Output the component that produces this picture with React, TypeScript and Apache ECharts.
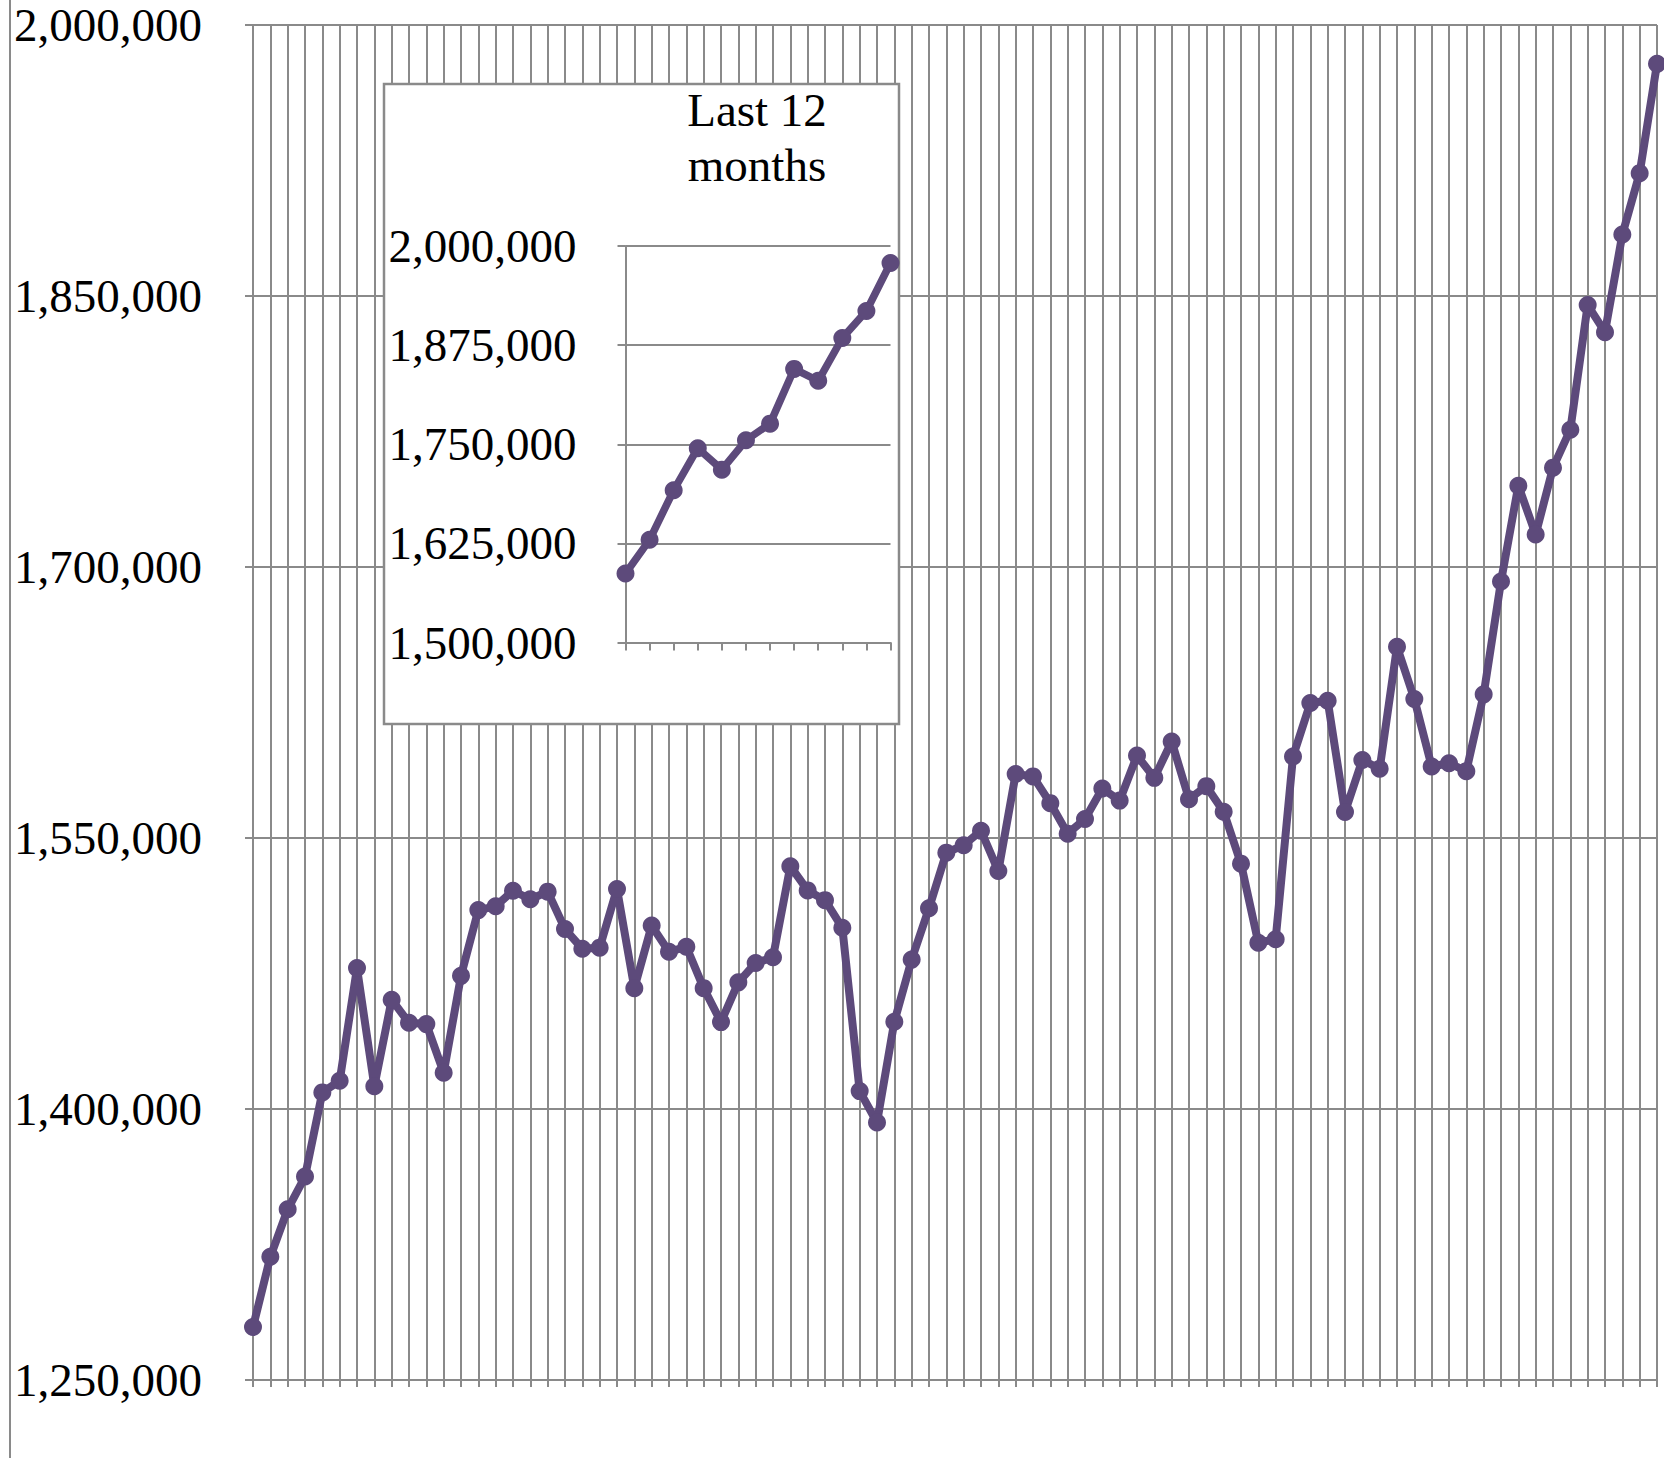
import React, { useEffect, useRef } from "react";
import * as echarts from "echarts";

// Monthly totals
const mainValues: number[] = [
  1279300, 1318200, 1344500, 1362600, 1409200, 1415600, 1478000, 1412600, 1460500, 1447700,
  1447000, 1420100, 1473700, 1510100, 1512200, 1520800, 1516100, 1520300, 1499600, 1488700,
  1489300, 1521800, 1466900, 1501500, 1487000, 1489800, 1466900, 1448100, 1470100, 1480800,
  1484000, 1534400, 1521000, 1515600, 1500300, 1409900, 1392500, 1448300, 1482700, 1511100,
  1541900, 1546000, 1554000, 1531700, 1585400, 1584100, 1569300, 1552400, 1560500, 1577400,
  1570700, 1595600, 1583300, 1603400, 1571500, 1578700, 1564500, 1535800, 1492000, 1494000,
  1595100, 1624700, 1626000, 1564400, 1593200, 1588300, 1655800, 1626900, 1589600, 1591400,
  1587000, 1629500, 1692000, 1745000, 1718000, 1755000, 1776000, 1845000, 1830000, 1884000,
  1918000, 1978500,
];
const mainCategories: string[] = mainValues.map((_, i) => String(i + 1));

const insetValues: number[] = mainValues.slice(-12);
const insetCategories: string[] = mainCategories.slice(-12);

const mainYMin = 1250000;
const mainYMax = 2000000;
const mainYStep = 150000;
const insetYMin = 1500000;
const insetYMax = 2000000;
const insetYStep = 125000;
const insetTitle: string[] = ["Last 12", "months"];

const GRID = "#8a8a8a";
const LINE = "#5d4a7b";
const FONT = '"Liberation Serif", "Times New Roman", serif';

const fmt = (v: number) => v.toLocaleString("en-US");

export default function App() {
  const ref = useRef<HTMLDivElement>(null);
  useEffect(() => {
    if (!ref.current) return;
    const chart = echarts.init(ref.current, undefined, { renderer: "svg" });
    const option: any = {
      animation: false,
      backgroundColor: "#ffffff",
      grid: [
        { left: 253, top: 25, width: 1404, height: 1355, containLabel: false },
        { left: 625.5, top: 246, width: 265, height: 396.5, containLabel: false },
      ],
      xAxis: [
        {
          type: "category",
          gridIndex: 0,
          data: mainCategories,
          boundaryGap: false,
          axisLine: { show: true, lineStyle: { color: GRID, width: 2 } },
          axisTick: { show: true, interval: 0, length: 7, lineStyle: { color: GRID, width: 2 } },
          axisLabel: { show: false, interval: 0 },
          splitLine: { show: true, interval: 0, lineStyle: { color: GRID, width: 2 } },
        },
        {
          type: "category",
          gridIndex: 1,
          data: insetCategories,
          boundaryGap: false,
          z: 11,
          axisLine: { show: true, lineStyle: { color: GRID, width: 2 } },
          axisTick: { show: true, interval: 0, length: 8, lineStyle: { color: GRID, width: 2 } },
          axisLabel: { show: false, interval: 0 },
          splitLine: { show: false },
        },
      ],
      yAxis: [
        {
          type: "value",
          gridIndex: 0,
          min: mainYMin,
          max: mainYMax,
          interval: mainYStep,
          axisLine: { show: true, lineStyle: { color: GRID, width: 2 } },
          axisTick: { show: true, length: 8, lineStyle: { color: GRID, width: 2 } },
          axisLabel: {
            formatter: fmt,
            color: "#000",
            fontFamily: FONT,
            fontSize: 47,
            margin: 51,
          },
          splitLine: { show: true, lineStyle: { color: GRID, width: 2 } },
        },
        {
          type: "value",
          gridIndex: 1,
          min: insetYMin,
          max: insetYMax,
          interval: insetYStep,
          z: 11,
          axisLine: { show: true, lineStyle: { color: GRID, width: 2 } },
          axisTick: { show: true, length: 8, lineStyle: { color: GRID, width: 2 } },
          axisLabel: {
            formatter: fmt,
            color: "#000",
            fontFamily: FONT,
            fontSize: 47,
            margin: 49,
          },
          splitLine: { show: true, lineStyle: { color: GRID, width: 2 } },
        },
      ],
      graphic: [
        {
          type: "line",
          z: 1,
          shape: { x1: 10, y1: 0, x2: 10, y2: 1458 },
          style: { stroke: GRID, lineWidth: 2 },
        },
        {
          type: "rect",
          z: 10,
          shape: { x: 384, y: 84, width: 515, height: 640 },
          style: { fill: "#ffffff", stroke: GRID, lineWidth: 2.5 },
        },
        {
          type: "text",
          z: 13,
          x: 757,
          y: 110,
          style: {
            text: insetTitle[0],
            fill: "#000",
            font: `47px ${FONT}`,
            textAlign: "center",
            textVerticalAlign: "middle",
          },
        },
        {
          type: "text",
          z: 13,
          x: 757,
          y: 165,
          style: {
            text: insetTitle[1],
            fill: "#000",
            font: `47px ${FONT}`,
            textAlign: "center",
            textVerticalAlign: "middle",
          },
        },
      ],
      series: [
        {
          type: "line",
          xAxisIndex: 0,
          yAxisIndex: 0,
          data: mainValues,
          symbol: "circle",
          symbolSize: 18,
          showSymbol: true,
          showAllSymbol: true,
          itemStyle: { color: LINE, borderWidth: 0 },
          lineStyle: { color: LINE, width: 8 },
          z: 3,
        },
        {
          type: "line",
          xAxisIndex: 1,
          yAxisIndex: 1,
          data: insetValues,
          symbol: "circle",
          symbolSize: 18,
          showSymbol: true,
          showAllSymbol: true,
          itemStyle: { color: LINE, borderWidth: 0 },
          lineStyle: { color: LINE, width: 7.5 },
          z: 12,
        },
      ],
    };
    chart.setOption(option);
    return () => chart.dispose();
  }, []);
  return (
    <div
      ref={ref}
      style={{ position: "absolute", left: 0, top: 0, width: 1664, height: 1458 }}
    />
  );
}
